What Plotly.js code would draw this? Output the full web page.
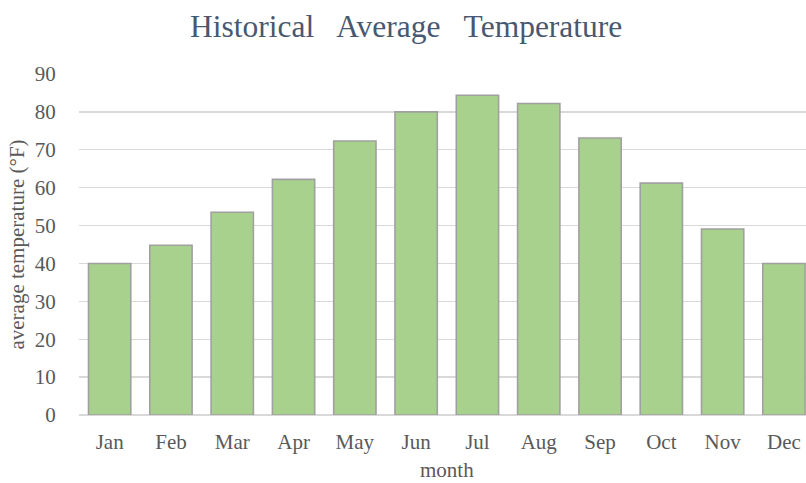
<!DOCTYPE html>
<html>
<head>
<meta charset="utf-8">
<script src="https://cdn.plot.ly/plotly-3.0.1.min.js"></script>
<style>html,body{margin:0;padding:0;overflow:hidden;background:#fff;}</style>
</head>
<body>
<div id="chart" style="width:806px;height:483px;"></div>
<script>
const months = ["Jan","Feb","Mar","Apr","May","Jun","Jul","Aug","Sep","Oct","Nov","Dec"];
const avgTemp = [40.0, 44.8, 53.5, 62.2, 72.3, 80.0, 84.4, 82.2, 73.1, 61.2, 49.1, 40.0];
const yTicks = [0,10,20,30,40,50,60,70,80,90];
const xTitle = 'month';

const serif = "'Liberation Serif', 'Times New Roman', serif";
const trace = {
  type: 'bar',
  x: months,
  y: avgTemp,
  marker: {color: '#a9d18e', line: {color: '#a0a0a0', width: 1.6}},
  hoverinfo: 'x+y'
};
const layout = {
  width: 806, height: 483,
  margin: {l: 79, r: 0, t: 74, b: 68},
  paper_bgcolor: '#ffffff', plot_bgcolor: '#ffffff',
  bargap: 0.31,
  showlegend: false,
  title: {text: 'Historical\u00a0\u00a0 Average\u00a0\u00a0 Temperature', x: 0.504, xanchor: 'center', y: 0.946, yanchor: 'middle', yref: 'container',
    font: {family: serif, size: 31.5, color: '#485870'}},
  font: {family: serif, color: '#595959', size: 21},
  xaxis: {
    type: 'category', range: [-0.5, 11.36],
    showgrid: false, zeroline: false, showline: false,
    ticks: 'outside', ticklen: 8, tickcolor: 'rgba(0,0,0,0)',
    tickfont: {family: serif, size: 21, color: '#595959'}
  },
  yaxis: {
    range: [0, 90], tickvals: yTicks, ticktext: yTicks.map(String),
    showgrid: true, gridcolor: '#d9d9d9', gridwidth: 1.3,
    zeroline: true, zerolinecolor: '#d9d9d9', zerolinewidth: 1.3,
    showline: false,
    ticks: 'outside', ticklen: 18, tickcolor: 'rgba(0,0,0,0)',
    tickfont: {family: serif, size: 21, color: '#595959'},
    title: {text: 'average temperature (°F)', font: {family: serif, size: 21, color: '#595959'}, standoff: 4}
  },
  annotations: [{
    text: xTitle, xref: 'paper', yref: 'paper', x: 0.506, y: -0.199,
    xanchor: 'center', yanchor: 'bottom', showarrow: false, borderpad: 0,
    font: {family: serif, size: 21, color: '#595959'}
  }]
};
Plotly.newPlot('chart', [trace], layout, {displayModeBar: false, staticPlot: true});
</script>
</body>
</html>
